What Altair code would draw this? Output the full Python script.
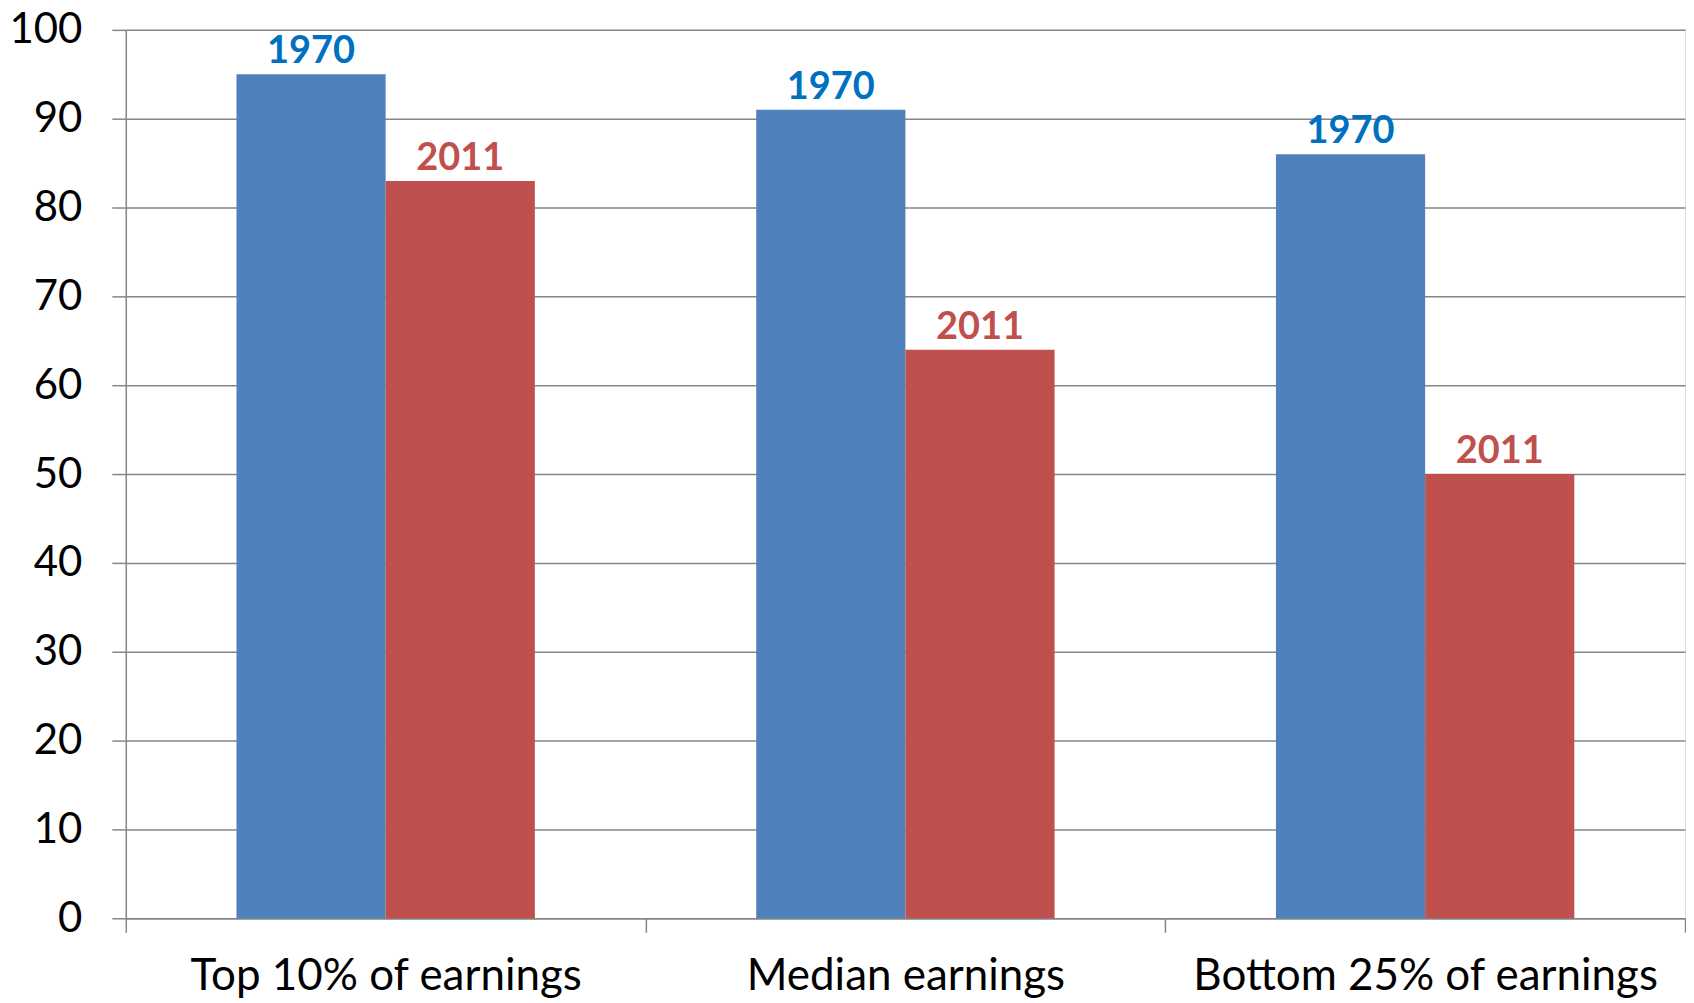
import altair as alt
import pandas as pd

categories = ["Top 10% of earnings", "Median earnings", "Bottom 25% of earnings"]
years = ["1970", "2011"]
values_1970 = [95, 91, 86]
values_2011 = [83, 64, 50]
y_ticks = [0, 10, 20, 30, 40, 50, 60, 70, 80, 90, 100]
bar_colors = ["#4F81BD", "#C0504D"]
label_colors = ["#0070C0", "#C0504D"]

rows = []
for c, v in zip(categories, values_1970):
    rows.append({"category": c, "year": years[0], "value": v})
for c, v in zip(categories, values_2011):
    rows.append({"category": c, "year": years[1], "value": v})
df = pd.DataFrame(rows)

FONT = "Lato"
GRID = "#868686"

x = alt.X("category:N", sort=categories, title=None,
          scale=alt.Scale(paddingInner=0, paddingOuter=0),
          axis=alt.Axis(labelAngle=0, labelFontSize=44, labelFont=FONT, labelColor="#000000",
                        labelFontWeight="normal", labelLimit=0,
                        labelPadding=22, tickBand="extent", tickSize=14, tickColor=GRID,
                        tickWidth=1.5, domainColor=GRID, domainWidth=1.5, grid=False))
xo = alt.XOffset("year:N", sort=years,
                 scale=alt.Scale(paddingInner=0, paddingOuter=0.742))
y = alt.Y("value:Q", title=None,
          scale=alt.Scale(domain=[0, 100], nice=False),
          axis=alt.Axis(values=y_ticks, labelFontSize=42, labelFont=FONT, labelColor="#000000",
                        labelPadding=30, tickSize=14, tickColor=GRID, tickWidth=1.5,
                        domainColor=GRID, domainWidth=1.5, gridColor=GRID, gridWidth=1.5))

bars = alt.Chart(df).mark_bar().encode(
    x=x, xOffset=xo, y=y,
    color=alt.Color("year:N", sort=years, legend=None,
                    scale=alt.Scale(domain=years, range=bar_colors)),
)

labels = alt.Chart(df).mark_text(font=FONT, fontSize=38, fontWeight="bold",
                                 baseline="alphabetic", dy=-11).encode(
    x=alt.X("category:N", sort=categories),
    xOffset=alt.XOffset("year:N", sort=years),
    y=alt.Y("value:Q"),
    text="year:N",
    color=alt.Color("year:N", sort=years, legend=None,
                    scale=alt.Scale(domain=years, range=label_colors)),
)

chart = alt.layer(bars, labels).resolve_scale(color="independent").properties(
    width=1562, height=890, padding={"left": 0, "top": 0, "right": 0, "bottom": 0}
).configure_view(stroke=None).configure(background="white")

chart.save("out.html", embed_options={"renderer": "svg", "actions": False})
